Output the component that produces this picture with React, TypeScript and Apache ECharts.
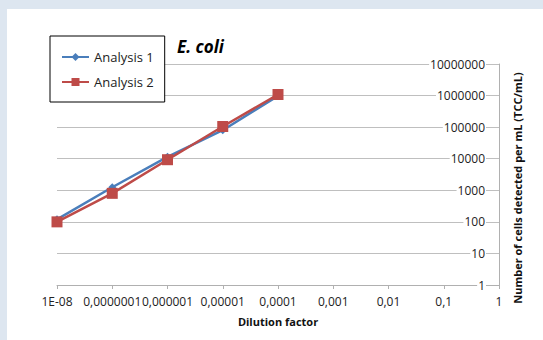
import React, { useEffect, useRef } from "react";
import * as echarts from "echarts";

const categories = ["1E-08", "0,0000001", "0,000001", "0,00001", "0,0001", "0,001", "0,01", "0,1", "1"];
const analysis1 = [120, 1250, 11500, 80000, 980000];
const analysis2 = [100, 800, 9300, 105000, 1080000];
const yMin = 1;
const yMax = 10000000;
const titleText = "E. coli";
const xName = "Dilution factor";
const yName = "Number of cells detected per mL (TCC/mL)";

const FONT = "'Open Sans', sans-serif";

export default function App() {
  const ref = useRef<HTMLDivElement>(null);
  useEffect(() => {
    if (!ref.current) return;
    const chart = echarts.init(ref.current, null, { renderer: "svg" });
    chart.setOption({
      animation: false,
      textStyle: { fontFamily: FONT },
      title: {
        text: titleText,
        left: 172,
        top: 33,
        textStyle: { fontSize: 17, fontWeight: "bold", fontStyle: "italic", color: "#000", fontFamily: FONT },
      },
      legend: {
        left: 50,
        top: 36,
        orient: "vertical",
        backgroundColor: "#fff",
        borderColor: "#000",
        borderWidth: 1,
        borderRadius: 0,
        padding: [14, 11, 13, 11],
        itemWidth: 27,
        itemHeight: 10,
        itemGap: 11,
        textStyle: { fontSize: 13, color: "#222", fontFamily: FONT, lineHeight: 14 },
        data: ["Analysis 1", "Analysis 2"],
      },
      grid: { left: 57, right: 44, top: 64, bottom: 55, containLabel: false },
      xAxis: {
        type: "category",
        data: categories,
        boundaryGap: false,
        name: xName,
        nameLocation: "middle",
        nameGap: 31,
        nameTextStyle: { fontSize: 11, fontWeight: "bold", color: "#111", fontFamily: FONT },
        axisLine: { lineStyle: { color: "#b0b0b0", width: 1 } },
        axisTick: { show: true, length: 4, alignWithLabel: true, lineStyle: { color: "#b0b0b0" } },
        axisLabel: { interval: 0, fontSize: 12, color: "#222", margin: 10, fontFamily: FONT, hideOverlap: false },
        splitLine: { show: false },
      },
      yAxis: {
        type: "log",
        logBase: 10,
        min: yMin,
        max: yMax,
        position: "right",
        axisLine: { show: true, lineStyle: { color: "#b0b0b0", width: 1 } },
        axisTick: { show: false },
        axisLabel: {
          inside: true,
          margin: 13,
          fontSize: 12,
          color: "#222",
          fontFamily: FONT,
          backgroundColor: "#fff",
          padding: [0, 1],
          formatter: (v: number) => String(Math.round(v)),
        },
        splitLine: { show: true, lineStyle: { color: "#bfbfbf", width: 1 } },
        minorTick: { show: false },
      },
      graphic: [
        {
          type: "text",
          x: 517,
          y: 188,
          rotation: Math.PI / 2,
          style: {
            text: yName,
            fontSize: 11,
            fontWeight: "bold",
            fontFamily: FONT,
            fill: "#111",
            align: "center",
            verticalAlign: "middle",
          },
        },
      ],
      series: [
        {
          name: "Analysis 1",
          type: "line",
          data: analysis1,
          symbol: "diamond",
          symbolSize: 8,
          lineStyle: { color: "#4a7ebb", width: 2.5 },
          itemStyle: { color: "#4a7ebb" },
          z: 2,
        },
        {
          name: "Analysis 2",
          type: "line",
          data: analysis2,
          symbol: "rect",
          symbolSize: 11,
          lineStyle: { color: "#be4b48", width: 2.5 },
          itemStyle: { color: "#be4b48" },
          z: 3,
        },
      ],
    });
    return () => chart.dispose();
  }, []);
  return (
    <div style={{ position: "fixed", left: 0, top: 0, width: 543, height: 340, background: "#dde6f0", overflow: "hidden" }}>
      <div style={{ position: "absolute", left: 7, top: 9, right: 0, bottom: 0, background: "#fff" }} />
      <div ref={ref} style={{ position: "absolute", left: 0, top: 0, width: 543, height: 340 }} />
    </div>
  );
}
